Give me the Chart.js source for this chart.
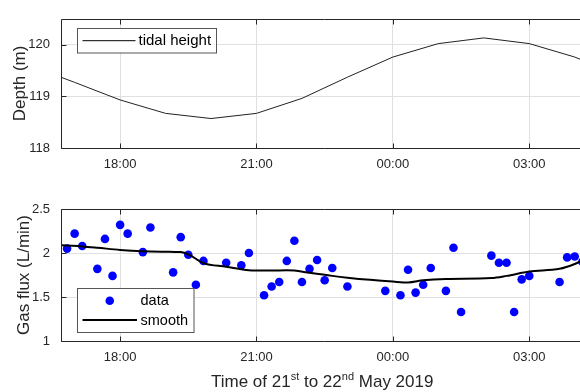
<!DOCTYPE html>
<html>
<head>
<meta charset="utf-8">
<script src="https://cdn.jsdelivr.net/npm/chart.js@4.4.1/dist/chart.umd.min.js"></script>
<style>
  html, body { margin: 0; padding: 0; background: #fff; width: 580px; height: 392px; overflow: hidden; }
  #wrap { position: relative; width: 580px; height: 392px; overflow: hidden; }
  canvas { position: absolute; left: 0; }
  #tide { top: 0; }
  #flux { top: 190px; }
  #xtitle {
    position: absolute; left: 211px; top: 372px;
    font: 17px "Liberation Sans", Arial, sans-serif; line-height: 20px;
    color: #262626; white-space: nowrap;
  }
  #xtitle sup { font-size: 11px; position: relative; top: -7px; vertical-align: baseline; line-height: 0; }
</style>
</head>
<body>
<div id="wrap">
  <canvas id="tide" width="600" height="190"></canvas>
  <canvas id="flux" width="600" height="202"></canvas>
  <div id="xtitle">Time of 21<sup>st</sup> to 22<sup>nd</sup> May 2019</div>
</div>
<script>
// tidal height, hourly
const tideTimes = ['16:00', '17:00', '18:00', '19:00', '20:00', '21:00', '22:00',
  '23:00', '00:00', '01:00', '02:00', '03:00', '04:00', '05:00'];
const tideDepth = [119.60, 119.27, 118.93, 118.67, 118.57, 118.67, 118.96,
  119.37, 119.76, 120.02, 120.13, 120.02, 119.76, 119.40];

// gas flux measurements (10 min, with gaps)
const fluxTimes = ['16:50', '17:00', '17:10', '17:30', '17:40', '17:50', '18:00', '18:10',
  '18:30', '18:40', '19:10', '19:20', '19:30', '19:40', '19:50', '20:20', '20:40', '20:50',
  '21:10', '21:20', '21:30', '21:40', '21:50', '22:00', '22:10', '22:20', '22:30', '22:40',
  '23:00', '23:50', '00:10', '00:20', '00:30', '00:40', '00:50', '01:10', '01:20', '01:30',
  '02:10', '02:20', '02:30', '02:40', '02:50', '03:00', '03:40', '03:50', '04:00', '04:10'];
const fluxValues = [2.05, 2.22, 2.08, 1.82, 2.16, 1.74, 2.32, 2.22,
  2.01, 2.29, 1.78, 2.18, 1.98, 1.64, 1.91, 1.89, 1.86, 2.00,
  1.52, 1.62, 1.67, 1.91, 2.14, 1.67, 1.82, 1.92, 1.69, 1.83,
  1.62, 1.57, 1.52, 1.81, 1.55, 1.64, 1.83, 1.57, 2.06, 1.33,
  1.97, 1.89, 1.89, 1.33, 1.70, 1.74, 1.67, 1.95, 1.96, 1.90];

// smoothed flux
const smoothTimes = ['16:40', '16:50', '17:10', '17:30', '18:00', '18:30', '19:00', '19:20',
  '19:30', '19:50', '20:20', '20:50', '21:10', '21:40', '21:50', '22:10', '22:40', '23:00',
  '23:30', '00:00', '00:20', '00:40', '01:10', '02:10', '02:30', '03:00', '03:40', '04:00',
  '04:10', '04:20'];
const smoothValues = [2.09, 2.085, 2.075, 2.06, 2.035, 2.02, 2.015, 2.01,
  1.985, 1.885, 1.845, 1.805, 1.80, 1.805, 1.80, 1.775, 1.74, 1.72,
  1.695, 1.675, 1.665, 1.69, 1.705, 1.715, 1.74, 1.79, 1.82, 1.875,
  1.915, 1.95];

const xTickHours = [18, 21, 24, 27];
const xTickLabels = ['18:00', '21:00', '00:00', '03:00'];
const depthTicks = [118, 119, 120];
const fluxTicks = [1, 1.5, 2, 2.5];

const AXIS_COLOR = '#262626';
const GRID_COLOR = '#e0e0e0';
const FONT = '"Liberation Sans", Arial, sans-serif';

Chart.defaults.font.family = FONT;
Chart.defaults.color = AXIS_COLOR;

function toHours(t) {
  const [h, m] = t.split(':').map(Number);
  return (h < 12 ? h + 24 : h) + m / 60;
}

function toPoints(times, values) {
  return times.map((t, i) => ({ x: toHours(t), y: values[i] }));
}

// box, inward ticks and a MATLAB-like legend
const matlabAxes = {
  id: 'matlabAxes',
  afterDatasetsDraw(chart, args, opts) {
    const { ctx, chartArea: a, scales: { x, y } } = chart;
    const L = Math.round(a.left) + 0.5, R = Math.round(a.right) + 0.5;
    const T = Math.round(a.top) + 0.5, B = Math.round(a.bottom) + 0.5;
    ctx.save();
    ctx.strokeStyle = AXIS_COLOR;
    ctx.lineWidth = 1;
    ctx.beginPath();
    ctx.rect(L, T, R - L, B - T);
    x.ticks.forEach((t) => {
      const px = Math.round(x.getPixelForValue(t.value)) + 0.5;
      ctx.moveTo(px, B); ctx.lineTo(px, B - 5);
      ctx.moveTo(px, T); ctx.lineTo(px, T + 5);
    });
    y.ticks.forEach((t) => {
      const py = Math.round(y.getPixelForValue(t.value)) + 0.5;
      ctx.moveTo(L, py); ctx.lineTo(L + 5, py);
      ctx.moveTo(R, py); ctx.lineTo(R - 5, py);
    });
    ctx.stroke();

    const lg = opts.legend;
    if (lg) {
      const bx = Math.round(a.left + lg.dx) + 0.5;
      const by = lg.fromBottom ? Math.round(a.bottom - lg.dy - lg.h) + 0.5 : Math.round(a.top + lg.dy) + 0.5;
      ctx.fillStyle = '#fff';
      ctx.fillRect(bx, by, lg.w, lg.h);
      ctx.strokeStyle = '#555';
      ctx.strokeRect(bx, by, lg.w, lg.h);
      ctx.font = lg.fontSize + 'px ' + FONT;
      ctx.textBaseline = 'middle';
      ctx.textAlign = 'left';
      lg.items.forEach((it) => {
        const iy = by + it.dy;
        if (it.kind === 'point') {
          ctx.fillStyle = it.color;
          ctx.beginPath();
          ctx.arc(bx + (lg.sx0 + lg.sx1) / 2, iy, it.radius, 0, Math.PI * 2);
          ctx.fill();
        } else {
          ctx.strokeStyle = it.color;
          ctx.lineWidth = it.width;
          ctx.beginPath();
          ctx.moveTo(bx + lg.sx0, iy);
          ctx.lineTo(bx + lg.sx1, iy);
          ctx.stroke();
        }
        ctx.fillStyle = '#000';
        ctx.fillText(it.label, bx + lg.tx, iy + 0.5);
      });
    }
    ctx.restore();
  }
};

function xScale(height) {
  return {
    type: 'linear',
    min: 16.7,
    max: 28.27,
    afterBuildTicks: (s) => { s.ticks = xTickHours.map((v) => ({ value: v })); },
    afterFit: (s) => { s.height = height; },
    grid: { color: GRID_COLOR, drawTicks: false },
    border: { display: false },
    ticks: {
      autoSkip: false, maxRotation: 0, padding: 9,
      font: { size: 13 }, color: AXIS_COLOR,
      callback: (v, i) => xTickLabels[i],
    },
  };
}

function yScale(min, max, ticks, title, titlePad) {
  return {
    min: min,
    max: max,
    afterBuildTicks: (s) => { s.ticks = ticks.map((v) => ({ value: v })); },
    afterFit: (s) => { s.width = 61; },
    grid: { color: GRID_COLOR, drawTicks: false },
    border: { display: false },
    ticks: { padding: 11, font: { size: 13 }, color: AXIS_COLOR, callback: (v) => String(v) },
    title: { display: true, text: title, font: { size: 17 }, color: AXIS_COLOR, padding: { top: titlePad, bottom: 0 } },
  };
}

new Chart(document.getElementById('tide'), {
  type: 'line',
  data: {
    datasets: [{
      label: 'tidal height',
      data: toPoints(tideTimes, tideDepth),
      borderColor: '#222',
      borderWidth: 1,
      pointRadius: 0,
      tension: 0,
    }],
  },
  options: {
    responsive: false,
    animation: false,
    devicePixelRatio: 1,
    layout: { padding: { top: 15, right: 13, left: 0, bottom: 0 } },
    scales: {
      x: xScale(42),
      y: yScale(118, 120.5, depthTicks, 'Depth (m)', 10.5),
    },
    plugins: {
      legend: { display: false },
      tooltip: { enabled: false },
      matlabAxes: {
        legend: {
          dx: 16, dy: 9.5, w: 139, h: 24.5, fromBottom: false,
          sx0: 5, sx1: 58, tx: 61, fontSize: 15,
          items: [{ label: 'tidal height', kind: 'line', color: '#000', width: 1, dy: 12.2 }],
        },
      },
    },
  },
  plugins: [matlabAxes],
});

new Chart(document.getElementById('flux'), {
  type: 'scatter',
  data: {
    datasets: [{
      label: 'smooth',
      data: toPoints(smoothTimes, smoothValues),
      showLine: true,
      borderColor: '#000',
      borderWidth: 2,
      pointRadius: 0,
      cubicInterpolationMode: 'monotone',
      order: 0,
    }, {
      label: 'data',
      data: toPoints(fluxTimes, fluxValues),
      backgroundColor: '#0000ff',
      borderWidth: 0,
      pointRadius: 4.3,
      order: 1,
    }],
  },
  options: {
    responsive: false,
    animation: false,
    devicePixelRatio: 1,
    layout: { padding: { top: 19, right: 13, left: 0, bottom: 0 } },
    scales: {
      x: xScale(51),
      y: yScale(1, 2.5, fluxTicks, 'Gas flux (L/min)', 13.8),
    },
    plugins: {
      legend: { display: false },
      tooltip: { enabled: false },
      matlabAxes: {
        legend: {
          dx: 16, dy: 9.3, w: 116.5, h: 44, fromBottom: true,
          sx0: 5, sx1: 59.5, tx: 63, fontSize: 14.5,
          items: [
            { label: 'data', kind: 'point', color: '#0000ff', radius: 4.3, dy: 12.3 },
            { label: 'smooth', kind: 'line', color: '#000', width: 2, dy: 31.6 },
          ],
        },
      },
    },
  },
  plugins: [matlabAxes],
});
</script>
</body>
</html>
